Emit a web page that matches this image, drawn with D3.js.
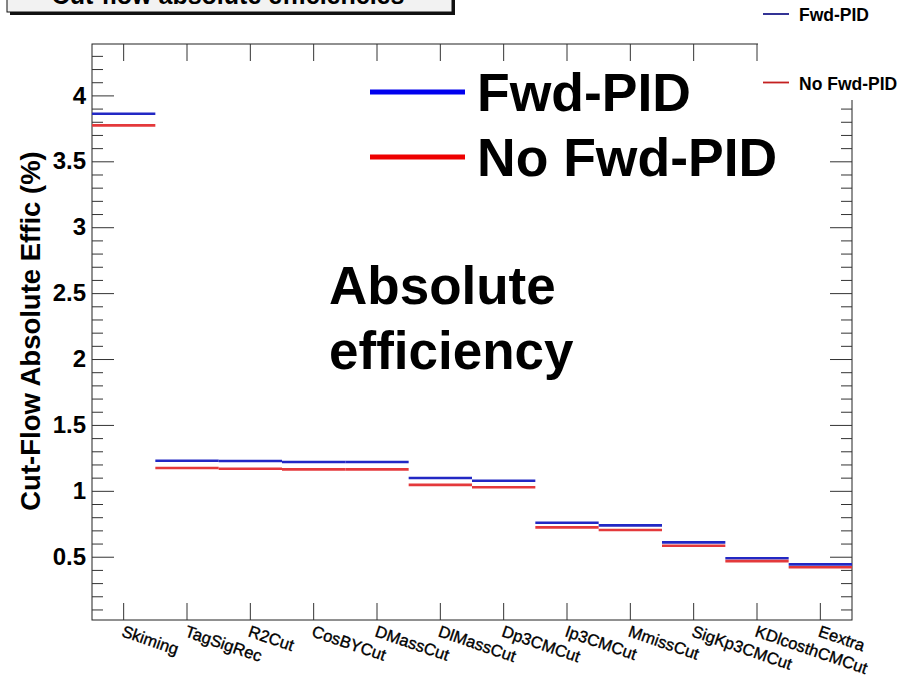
<!DOCTYPE html>
<html>
<head>
<meta charset="utf-8">
<script src="https://cdn.jsdelivr.net/npm/d3@7"></script>
<style>
  html, body { margin: 0; padding: 0; background: #fff; }
  svg { display: block; font-family: "Liberation Sans", Arial, Helvetica, sans-serif; }
</style>
</head>
<body>
<svg id="chart" width="914" height="679"></svg>
<script>
// Cut-flow stages (one bin each)
const categories = ["Skiming", "TagSigRec", "R2Cut", "CosBYCut", "DMassCut", "DlMassCut",
  "Dp3CMCut", "Ip3CMCut", "MmissCut", "SigKp3CMCut", "KDlcosthCMCut", "Eextra"];

// Absolute efficiency (%) after each cut
const fwdPid   = [3.861, 1.228, 1.226, 1.219, 1.219, 1.097, 1.077, 0.758, 0.738, 0.609, 0.488, 0.442];
const noFwdPid = [3.773, 1.173, 1.168, 1.163, 1.163, 1.045, 1.027, 0.723, 0.703, 0.583, 0.467, 0.420];

// Y-axis ticks
const yMajorTicks = [0.5, 1, 1.5, 2, 2.5, 3, 3.5, 4];
const yMinorTicks = [0.1, 0.2, 0.3, 0.4, 0.6, 0.7, 0.8, 0.9, 1.1, 1.2, 1.3, 1.4, 1.6, 1.7, 1.8, 1.9,
  2.1, 2.2, 2.3, 2.4, 2.6, 2.7, 2.8, 2.9, 3.1, 3.2, 3.3, 3.4, 3.6, 3.7, 3.8, 3.9, 4.1, 4.2, 4.3];

const series = [
  { name: "Fwd-PID", values: fwdPid, color: "#2228c4", legendColor: "#1c1c8a" },
  { name: "No Fwd-PID", values: noFwdPid, color: "#e4393b", legendColor: "#c42020" }
];

const frame = { left: 92, right: 852, top: 44, bottom: 620 };

const svg = d3.select("#chart");

const x = d3.scaleBand().domain(categories).range([frame.left, frame.right]).padding(0);
const y = d3.scaleLinear().domain([0.02, 4.39]).range([frame.bottom, frame.top]);

// Frame
svg.append("rect")
  .attr("x", frame.left).attr("y", frame.top)
  .attr("width", frame.right - frame.left).attr("height", frame.bottom - frame.top)
  .attr("fill", "none").attr("stroke", "#222").attr("stroke-width", 1);

const axisStyle = g => {
  g.select(".domain").remove();
  g.selectAll(".tick line").attr("stroke", "#333").attr("stroke-width", 1);
};

// Left axis: major ticks with labels, minor ticks without
svg.append("g")
  .attr("transform", `translate(${frame.left},0)`)
  .call(d3.axisLeft(y).tickValues(yMajorTicks).tickSize(-22).tickPadding(6)
    .tickFormat(d3.format("~g")))
  .call(axisStyle)
  .call(g => g.selectAll("text")
    .attr("font-size", 24).attr("font-weight", "bold").attr("fill", "#000")
    .attr("font-family", "'Liberation Sans', Arial, sans-serif"));

svg.append("g")
  .attr("transform", `translate(${frame.left},0)`)
  .call(d3.axisLeft(y).tickValues(yMinorTicks).tickSize(-11).tickFormat(""))
  .call(axisStyle);

// Right axis ticks pointing inward
svg.append("g")
  .attr("transform", `translate(${frame.right},0)`)
  .call(d3.axisRight(y).tickValues(yMajorTicks).tickSize(-22).tickFormat(""))
  .call(axisStyle);
svg.append("g")
  .attr("transform", `translate(${frame.right},0)`)
  .call(d3.axisRight(y).tickValues(yMinorTicks).tickSize(-11).tickFormat(""))
  .call(axisStyle);

// Bottom axis: ticks at bin centres, rotated labels
const xAxis = svg.append("g")
  .attr("transform", `translate(0,${frame.bottom})`)
  .call(d3.axisBottom(x).tickSize(-17).tickPadding(0))
  .call(axisStyle);
xAxis.selectAll(".tick text")
  .attr("text-anchor", "start")
  .attr("font-size", 16.5)
  .attr("fill", "#000")
  .attr("stroke", "#000").attr("stroke-width", 0.35)
  .attr("font-family", "'Liberation Sans', Arial, sans-serif")
  .attr("dy", null)
  .attr("y", 0)
  .attr("transform", "translate(-3,16) rotate(19)");

// Top axis ticks
svg.append("g")
  .attr("transform", `translate(0,${frame.top})`)
  .call(d3.axisTop(x).tickSize(-17).tickFormat(""))
  .call(axisStyle);

// Y-axis title
svg.append("text")
  .attr("transform", `translate(40,331) rotate(-90)`)
  .attr("text-anchor", "middle")
  .attr("font-size", 27.5).attr("font-weight", "bold").attr("fill", "#000")
  .text("Cut-Flow Absolute Effic (%)");

// Histogram bins as horizontal segments
series.forEach(s => {
  svg.append("g")
    .selectAll("line")
    .data(categories.map((c, i) => ({ c, v: s.values[i] })))
    .join("line")
    .attr("x1", d => x(d.c))
    .attr("x2", d => x(d.c) + x.bandwidth())
    .attr("y1", d => y(d.v))
    .attr("y2", d => y(d.v))
    .attr("stroke", s.color)
    .attr("stroke-width", 2.6);
});

// Small legend panel (top right)
const smallLegend = svg.append("g");
smallLegend.append("rect")
  .attr("x", 758).attr("y", 0).attr("width", 156).attr("height", 100)
  .attr("fill", "#fff");
series.forEach((s, i) => {
  const ly = i === 0 ? 14 : 82.5;
  smallLegend.append("line")
    .attr("x1", 763).attr("x2", 789).attr("y1", ly).attr("y2", ly)
    .attr("stroke", s.legendColor).attr("stroke-width", 1.8);
  smallLegend.append("text")
    .attr("x", 799).attr("y", ly + 7)
    .attr("font-size", 17.5).attr("font-weight", "bold").attr("fill", "#000")
    .text(s.name);
});

// Large legend
series.forEach((s, i) => {
  const ly = i === 0 ? 92 : 157;
  svg.append("line")
    .attr("x1", 370).attr("x2", 465).attr("y1", ly).attr("y2", ly)
    .attr("stroke", i === 0 ? "#0000ee" : "#ee0000").attr("stroke-width", 5);
  svg.append("text")
    .attr("x", 477).attr("y", ly + 19)
    .attr("font-size", 53.5).attr("font-weight", "bold").attr("fill", "#000")
    .text(s.name);
});

// Annotation
svg.append("text")
  .attr("x", 329).attr("y", 304)
  .attr("font-size", 53).attr("font-weight", "bold").attr("fill", "#000")
  .text("Absolute");
svg.append("text")
  .attr("x", 329).attr("y", 369)
  .attr("font-size", 53).attr("font-weight", "bold").attr("fill", "#000")
  .text("efficiency");

// Title box (partly above the page edge)
const title = svg.append("g");
title.append("rect")
  .attr("x", 10).attr("y", -20).attr("width", 445).attr("height", 35)
  .attr("fill", "#111");
title.append("rect")
  .attr("x", 7).attr("y", -23).attr("width", 445).attr("height", 35)
  .attr("fill", "#f2f2f2").attr("stroke", "#111").attr("stroke-width", 1);
title.append("text")
  .attr("x", 228).attr("y", 4)
  .attr("text-anchor", "middle")
  .attr("font-size", 25).attr("font-weight", "bold").attr("fill", "#000")
  .text("Cut-flow absolute efficiencies");
</script>
</body>
</html>
